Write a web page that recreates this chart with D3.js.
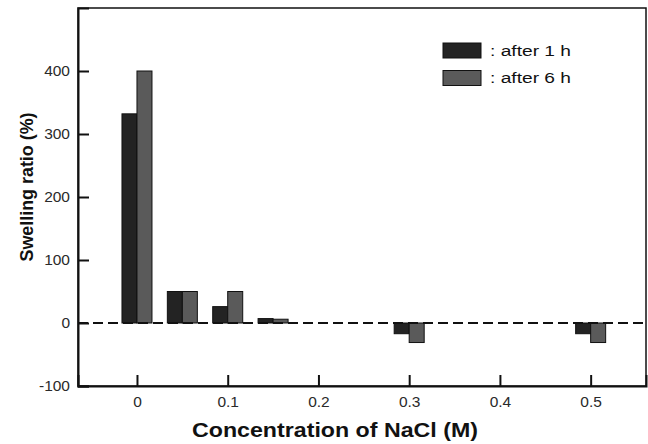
<!DOCTYPE html>
<html><head><meta charset="utf-8">
<script src="https://cdn.jsdelivr.net/npm/d3@7"></script>
<style>body{margin:0;background:#fff;} svg{display:block;}</style>
</head><body>
<script>
const concentrations = [0, 0.05, 0.1, 0.15, 0.3, 0.5];
const after1h = [332, 50, 26, 7, -17, -17];
const after6h = [400, 50, 50, 6, -31, -31];
const seriesNames = [": after 1 h", ": after 6 h"];
const seriesColors = ["#232323", "#5a5a5a"];
const xTicks = [0, 0.1, 0.2, 0.3, 0.4, 0.5];
const yTicks = [-100, 0, 100, 200, 300, 400];

const W = 648, H = 444;
const m = {left: 78, top: 8, right: 2, bottom: 58};
const svg = d3.select("body").append("svg").attr("width", W).attr("height", H);
const x = d3.scaleLinear().domain([-0.065, 0.561]).range([m.left, W - m.right]);
const y = d3.scaleLinear().domain([-100, 500]).range([H - m.bottom, m.top]);
const bw = 15;
const font = "'Liberation Sans', Arial, sans-serif";

// bars
const series = [after1h, after6h];
series.forEach((vals, si) => {
  svg.append("g").selectAll("rect").data(concentrations).join("rect")
    .attr("x", (d) => x(d) - bw + si * bw)
    .attr("width", bw)
    .attr("y", (d, i) => y(Math.max(0, vals[i])))
    .attr("height", (d, i) => Math.abs(y(vals[i]) - y(0)))
    .attr("fill", seriesColors[si])
    .attr("stroke", "#111").attr("stroke-width", 1);
});

// zero dashed line
svg.append("line").attr("x1", x.range()[0]).attr("x2", x.range()[1])
  .attr("y1", y(0)).attr("y2", y(0))
  .attr("stroke", "#111").attr("stroke-width", 2).attr("stroke-dasharray", "10,5");

// frame
svg.append("rect").attr("x", m.left).attr("y", m.top)
  .attr("width", W - m.right - m.left).attr("height", H - m.bottom - m.top)
  .attr("fill", "none").attr("stroke", "#111").attr("stroke-width", 1.5);

// axes
const yAxis = d3.axisLeft(y).tickValues(yTicks).tickSize(-11).tickPadding(8)
  .tickFormat(d => String(d));
const gy = svg.append("g").attr("transform", `translate(${m.left},0)`).call(yAxis);
const xAxis = d3.axisBottom(x).tickValues(xTicks).tickSize(-11).tickPadding(17)
  .tickFormat(d => d === 0 ? "0" : d3.format(".1f")(d));
const gx = svg.append("g").attr("transform", `translate(0,${H - m.bottom})`).call(xAxis);
[gx, gy].forEach(g => {
  g.select(".domain").attr("stroke", "#111").attr("stroke-width", 2);
  g.selectAll(".tick line").attr("stroke", "#111").attr("stroke-width", 2);
  g.selectAll(".tick text").attr("fill", "#2a2a2a").attr("font-size", 15.5).attr("font-family", font);
});
gx.selectAll(".tick text").attr("dy", "0.27em");

// axis titles
svg.append("text").attr("x", 335).attr("y", 437).attr("text-anchor", "middle")
  .attr("font-family", font).attr("font-weight", "bold").attr("font-size", 20.5)
  .attr("textLength", 286).attr("lengthAdjust", "spacingAndGlyphs")
  .attr("fill", "#111").text("Concentration of NaCl (M)");
svg.append("text").attr("transform", "translate(33,187) rotate(-90)").attr("text-anchor", "middle")
  .attr("font-family", font).attr("font-weight", "bold").attr("font-size", 18)
  .attr("textLength", 149).attr("lengthAdjust", "spacingAndGlyphs")
  .attr("fill", "#111").text("Swelling ratio (%)");

// legend
const lg = svg.append("g");
seriesNames.forEach((n, i) => {
  lg.append("rect").attr("x", 443).attr("y", 43 + i * 27.5).attr("width", 38).attr("height", 15)
    .attr("fill", seriesColors[i]).attr("stroke", "#111").attr("stroke-width", 1);
  lg.append("text").attr("x", 490).attr("y", 55.5 + i * 27.5)
    .attr("font-family", font).attr("font-size", 15.5).attr("fill", "#111")
    .attr("textLength", 81).attr("lengthAdjust", "spacingAndGlyphs").text(n);
});
</script>
</body></html>
